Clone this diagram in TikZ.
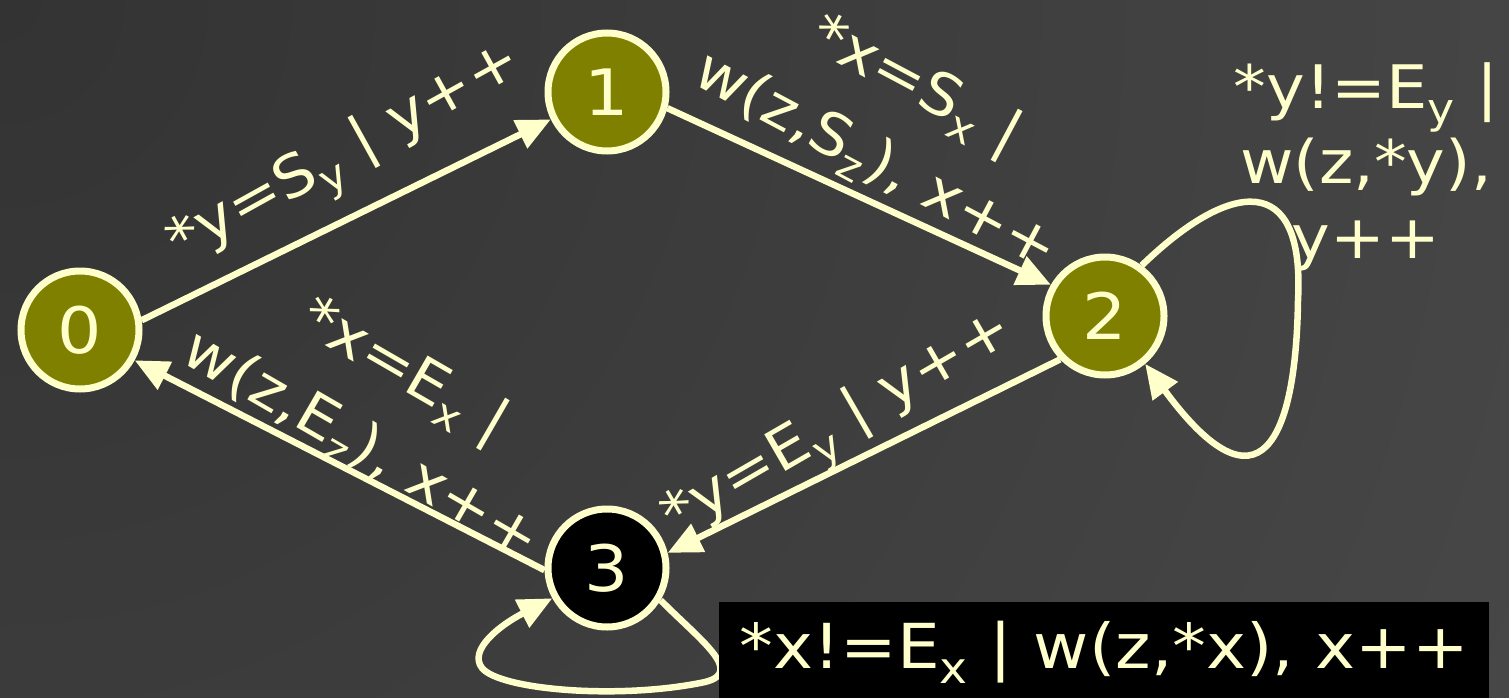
\documentclass[tikz,border=0pt]{standalone}
\usepackage{fontspec}
\setmainfont{DejaVu Sans}[FakeStretch=1.09]
\usetikzlibrary{arrows.meta}
\definecolor{ly}{HTML}{FFFFCC}
\definecolor{olv}{HTML}{808000}
\definecolor{bgin}{HTML}{333333}
\definecolor{bgout}{HTML}{4B4B4B}
\tikzset{
  state/.style={circle, draw=ly, line width=7pt, fill=olv, minimum size=118pt, inner sep=0pt,
    text=ly, font=\fontsize{64}{64}\selectfont},
  edge/.style={draw=ly, line width=6.5pt, -{Triangle[length=34pt,width=30pt]}},
  lbl/.style={text=ly, font=\fontsize{58}{86}\selectfont, inner sep=0pt, align=center},
}
\begin{document}
\begin{tikzpicture}[x=1pt,y=-1pt]
\useasboundingbox (0,0) rectangle (1509,698);
\fill[bgout] (0,0) rectangle (1509,698);
\begin{scope}
  \clip (0,0) rectangle (1509,698);
  \shade[inner color=bgin, outer color=bgout] (0,0) circle (2000);
\end{scope}

\node[state] (n0) at (80,330) {0};
\node[state] (n1) at (607,92) {1};
\node[state] (n2) at (1105,316) {2};
\node[state, fill=black] (n3) at (607,568) {3};

\draw[edge] (n0.9) -- (n1.206);
\draw[edge] (n1.345) -- (n2.150);
\draw[edge] (n2.224) -- (n3.14);
\draw[edge] (n3.182) -- (n0.331);

\draw[edge] (n2.54) .. controls (1230,180) and (1305,170) .. (1298,300)
  .. controls (1296,440) and (1260,520) .. (n2.310);
\draw[edge] (n3.329) .. controls (700,640) and (745,672) .. (705,682)
  .. controls (620,700) and (500,690) .. (482,668)
  .. controls (468,650) and (500,625) .. (n3.209);

\node[lbl, rotate=29] (l01) at (347,157) {*y=S\textsubscript{y} | y++};
\node[lbl, rotate=-28] (l12) at (895,125) {*x=S\textsubscript{x} |\\w(z,S\textsubscript{z}), x++};
\node[lbl, rotate=30] (l23) at (840,428) {*y=E\textsubscript{y} | y++};
\node[lbl, rotate=-30] (l30) at (382,410) {*x=E\textsubscript{x} |\\w(z,E\textsubscript{z}), x++};
\node[lbl, font=\fontsize{60}{75}\selectfont] (l22) at (1366,167) {*y!=E\textsubscript{y} |\\w(z,*y),\\y++};
\node[fill=black, anchor=north west, minimum width=770pt, minimum height=100pt, inner sep=0pt,
  text=ly, font=\fontsize{62}{62}\selectfont] (l33) at (719,602) {*x!=E\textsubscript{x} | w(z,*x), x++};
\end{tikzpicture}
\end{document}
